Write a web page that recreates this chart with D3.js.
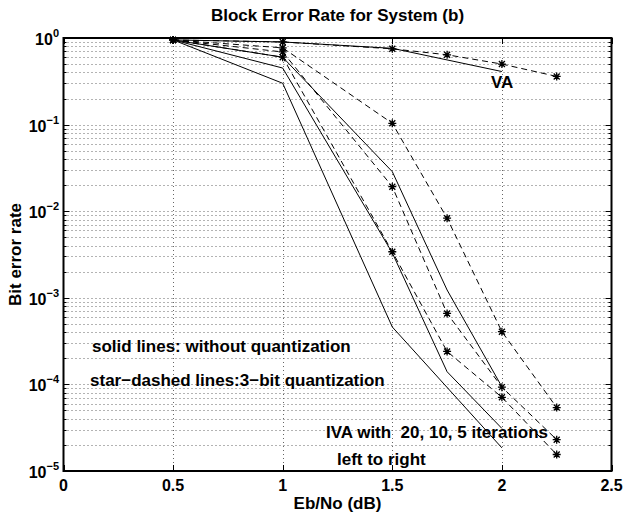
<!DOCTYPE html>
<html><head><meta charset="utf-8">
<script src="https://cdn.jsdelivr.net/npm/d3@7"></script>
<style>body{margin:0;background:#fff}svg{display:block}text{font-family:"Liberation Sans",Arial,sans-serif;font-weight:bold;fill:#000}</style>
</head><body>
<script>
// ---- data ----
const xTicks = [0, 0.5, 1, 1.5, 2, 2.5];
const yTickExps = [0, -1, -2, -3, -4, -5];
const titleText = "Block Error Rate for System (b)";
const xLabel = "Eb/No (dB)";
const yLabel = "Bit error rate";

// solid lines: without quantization
const vaSolidX = [0.5, 1, 1.5, 2];
const vaSolidBer = [0.95, 0.9, 0.76, 0.41];
const iva20SolidX = [0.5, 1, 1.5, 2];
const iva20SolidBer = [0.95, 0.3, 4.6e-4, 1.85e-5];
const iva10SolidX = [0.5, 1, 1.5, 1.75, 2];
const iva10SolidBer = [0.95, 0.45, 3.3e-3, 1.4e-4, 3.1e-5];
const iva5SolidX = [0.5, 1, 1.5, 1.75, 2];
const iva5SolidBer = [0.95, 0.6, 0.0286, 1.23e-3, 9.4e-5];

// star-dashed lines: 3-bit quantization
const quantX = [0.5, 1, 1.5, 1.75, 2, 2.25];
const vaQuantBer = [0.95, 0.9, 0.75, 0.64, 0.5, 0.36];
const iva20QuantBer = [0.95, 0.6, 3.4e-3, 2.4e-4, 7.1e-5, 1.55e-5];
const iva10QuantBer = [0.95, 0.69, 0.0192, 6.6e-4, 9.3e-5, 2.3e-5];
const iva5QuantBer = [0.95, 0.77, 0.1035, 8.3e-3, 4.06e-4, 5.4e-5];

const annotations = [
  {t: "VA", x: 1.95, y: 0.265},
  {t: "solid lines: without quantization", x: 0.13, y: 2.37e-4},
  {t: "star\u2212dashed lines:3\u2212bit quantization", x: 0.121, y: 9.6e-5},
  {t: "IVA with  20, 10, 5 iterations", x: 1.1975, y: 2.4e-5},
  {t: "left to right", x: 1.2477, y: 1.17e-5}
];

// ---- drawing ----
const W = 626, H = 519;
const svg = d3.select("body").append("svg").attr("width", W).attr("height", H);
const L = 63.5, R = 611.5, T = 38, B = 471;
const x = d3.scaleLinear().domain([0, 2.5]).range([L, R]);
const y = d3.scaleLog().domain([1, 1e-5]).range([T, B]);

// grid
const g = svg.append("g");
const minorVals = [];
for (let e = -5; e < 0; e++) for (let m = 1; m <= 9; m++) minorVals.push(m * Math.pow(10, e));
minorVals.forEach(v => {
  g.append("line").attr("x1", L).attr("x2", R).attr("y1", Math.round(y(v)) + 0.5).attr("y2", Math.round(y(v)) + 0.5)
    .attr("stroke", "#666").attr("stroke-width", 1).attr("stroke-dasharray", "1,3");
});
xTicks.slice(1, -1).forEach(v => {
  g.append("line").attr("y1", T).attr("y2", B).attr("x1", Math.round(x(v)) + 0.5).attr("x2", Math.round(x(v)) + 0.5)
    .attr("stroke", "#666").attr("stroke-width", 1).attr("stroke-dasharray", "1,3");
});

// ticks
const tk = svg.append("g").attr("stroke", "#000").attr("stroke-width", 1);
xTicks.forEach(v => {
  const xx = Math.round(x(v)) + 0.5;
  tk.append("line").attr("x1", xx).attr("x2", xx).attr("y1", B).attr("y2", B - 6);
  tk.append("line").attr("x1", xx).attr("x2", xx).attr("y1", T).attr("y2", T + 6);
});
minorVals.concat([1]).forEach(v => {
  const yy = Math.round(y(v)) + 0.5;
  const major = Math.abs(Math.log10(v) - Math.round(Math.log10(v))) < 1e-9;
  const len = major ? 6 : 3;
  tk.append("line").attr("x1", L).attr("x2", L + len).attr("y1", yy).attr("y2", yy);
  tk.append("line").attr("x1", R).attr("x2", R - len).attr("y1", yy).attr("y2", yy);
});

// lines
const line = d3.line().x(d => x(d[0])).y(d => y(d[1]));
const solidSeries = [[vaSolidX, vaSolidBer], [iva20SolidX, iva20SolidBer], [iva10SolidX, iva10SolidBer], [iva5SolidX, iva5SolidBer]];
solidSeries.forEach(([xs, ys]) => {
  svg.append("path").attr("d", line(xs.map((v, i) => [v, ys[i]])))
    .attr("fill", "none").attr("stroke", "#000").attr("stroke-width", 1);
});
const quantSeries = [vaQuantBer, iva20QuantBer, iva10QuantBer, iva5QuantBer];
quantSeries.forEach(ys => {
  const pts = quantX.map((v, i) => [v, ys[i]]);
  svg.append("path").attr("d", line(pts))
    .attr("fill", "none").attr("stroke", "#000").attr("stroke-width", 1).attr("stroke-dasharray", "6,4");
  const s = 4, d2 = 3;
  pts.forEach(p => {
    const px = x(p[0]), py = y(p[1]);
    svg.append("path").attr("d",
      `M${px - s},${py}L${px + s},${py}M${px},${py - s}L${px},${py + s}M${px - d2},${py - d2}L${px + d2},${py + d2}M${px - d2},${py + d2}L${px + d2},${py - d2}`)
      .attr("stroke", "#000").attr("stroke-width", 1.3).attr("fill", "none");
  });
});

// frame
svg.append("rect").attr("x", L).attr("y", T).attr("width", R - L).attr("height", B - T)
  .attr("fill", "none").attr("stroke", "#000").attr("stroke-width", 2);

// tick labels
xTicks.forEach(v => {
  svg.append("text").attr("x", x(v)).attr("y", 491).attr("text-anchor", "middle")
    .attr("font-size", 16).text(String(v));
});
yTickExps.forEach(e => {
  const yy = y(Math.pow(10, e));
  const t = svg.append("text").attr("x", 59).attr("y", yy + 7).attr("text-anchor", "end").attr("font-size", 16);
  t.append("tspan").text("10");
  t.append("tspan").attr("dy", -8).attr("font-size", 11).text(e === 0 ? "0" : "\u2212" + Math.abs(e));
});

// titles
svg.append("text").attr("x", (L + R) / 2).attr("y", 21).attr("text-anchor", "middle").attr("font-size", 17).text(titleText);
svg.append("text").attr("x", (L + R) / 2).attr("y", 509).attr("text-anchor", "middle").attr("font-size", 17).text(xLabel);
svg.append("text").attr("transform", `translate(21,${(T + B) / 2}) rotate(-90)`).attr("text-anchor", "middle").attr("font-size", 17).text(yLabel);

// annotations
annotations.forEach(a => {
  svg.append("text").attr("x", x(a.x)).attr("y", y(a.y)).attr("font-size", 17)
    .style("white-space", "pre").text(a.t);
});
</script>
</body></html>
